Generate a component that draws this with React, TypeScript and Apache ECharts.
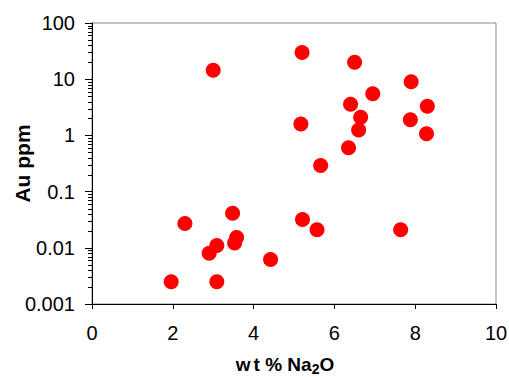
import React, { useEffect, useRef } from "react";
import * as echarts from "echarts";

// wt % Na2O (x) and Au ppm (y)
const naO = [3.0, 5.2, 6.5, 7.9, 6.95, 6.4, 8.3, 6.65, 5.17, 7.88, 6.6, 8.28, 6.35, 5.66, 2.3, 3.48, 3.58, 3.53, 3.09, 2.9, 1.96, 3.09, 5.21, 5.57, 7.64, 4.42];
const au = [14.5, 30, 20, 9, 5.5, 3.6, 3.3, 2.1, 1.6, 1.9, 1.25, 1.07, 0.6, 0.29, 0.027, 0.041, 0.0152, 0.0122, 0.011, 0.008, 0.0025, 0.0025, 0.032, 0.021, 0.021, 0.0062];

const xTicks = [0, 2, 4, 6, 8, 10];
const yDecades = [0.001, 0.01, 0.1, 1, 10, 100];
const minorMultipliers = [2, 3, 4, 5, 6, 7, 8, 9];

const FONT = "'Liberation Sans', Arial, sans-serif";

export default function App() {
  const ref = useRef<HTMLDivElement>(null);
  useEffect(() => {
    if (!ref.current) return;
    const chart = echarts.init(ref.current, null, { renderer: "svg" });
    const points = naO.map((x, i) => [x, au[i]]);
    const minorTicks: number[][] = [];
    yDecades.slice(0, -1).forEach((d) => {
      minorMultipliers.forEach((m) => minorTicks.push([xTicks[0], d * m]));
    });
    const big = { fontFamily: FONT, fontSize: 19, fontWeight: "bold", color: "#000" };
    chart.setOption({
      animation: false,
      backgroundColor: "#ffffff",
      grid: {
        left: 92,
        right: 13,
        top: 23,
        bottom: 73,
        show: true,
        borderColor: "#888888",
        borderWidth: 1,
        containLabel: false,
        outerBoundsMode: "none",
      },
      xAxis: {
        type: "value",
        min: xTicks[0],
        max: xTicks[xTicks.length - 1],
        interval: 2,
        name: "{w|w}{a|t % Na}{s|2}{o|O}",
        nameLocation: "middle",
        nameGap: 51,
        nameMoveOverlap: false,
        nameTextStyle: {
          rich: {
            w: { ...big, padding: [0, 3, 2, 0] },
            a: { ...big, padding: [0, 0, 2, 0] },
            o: { ...big, padding: [0, 18, 2, 0] },
            s: { fontFamily: FONT, fontSize: 14, fontWeight: "bold", color: "#000", verticalAlign: "bottom" },
          },
        },
        axisLine: { lineStyle: { color: "#000", width: 1 } },
        axisTick: { show: true, inside: false, length: 5, lineStyle: { color: "#000" } },
        axisLabel: { fontFamily: FONT, fontSize: 20, color: "#000", margin: 19 },
        splitLine: { show: false },
      },
      yAxis: {
        type: "log",
        logBase: 10,
        min: yDecades[0],
        max: yDecades[yDecades.length - 1],
        name: "Au ppm",
        nameLocation: "middle",
        nameGap: 59,
        nameMoveOverlap: false,
        nameTextStyle: { fontFamily: FONT, fontSize: 21, fontWeight: "bold", color: "#000" },
        axisLine: { show: true, lineStyle: { color: "#000", width: 1 } },
        axisTick: { show: true, inside: false, length: 7, lineStyle: { color: "#000" } },
        axisLabel: {
          fontFamily: FONT,
          fontSize: 20,
          color: "#000",
          margin: 17,
          formatter: (v: number) => String(Number(v.toPrecision(1))),
        },
        splitLine: { show: false },
      },
      series: [
        {
          type: "custom",
          silent: true,
          clip: false,
          data: minorTicks,
          encode: { x: 0, y: 1 },
          renderItem: (params: any, api: any) => {
            const p = api.coord([api.value(0), api.value(1)]);
            const y = Math.round(p[1]) + 0.5;
            const x = Math.round(p[0]);
            return {
              type: "line",
              shape: { x1: x - 4, y1: y, x2: x, y2: y },
              style: { stroke: "#000", lineWidth: 1 },
            };
          },
        },
        {
          type: "scatter",
          data: points,
          symbol: "circle",
          symbolSize: 15,
          itemStyle: { color: "#ff0000", opacity: 1 },
          z: 3,
        },
      ],
    });
    return () => chart.dispose();
  }, []);
  return (
    <div
      ref={ref}
      style={{ position: "fixed", left: 0, top: 0, width: 509, height: 377, background: "#fff" }}
    />
  );
}
